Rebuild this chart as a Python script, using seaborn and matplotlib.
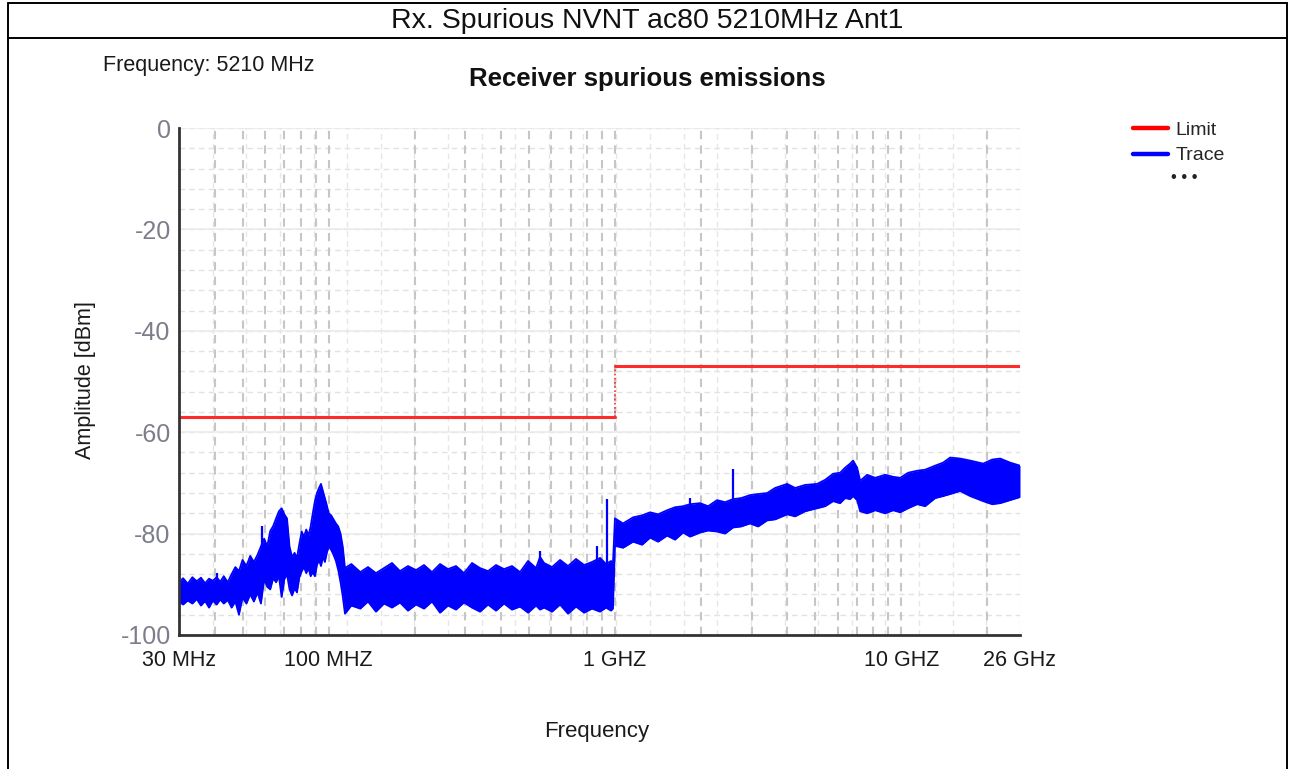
import matplotlib
matplotlib.use("Agg")
import numpy as np
import pandas as pd
import seaborn as sns
import matplotlib.pyplot as plt
from matplotlib.lines import Line2D

# ---------------- data ----------------
header_text = "Rx. Spurious NVNT ac80 5210MHz Ant1"
chart_title = "Receiver spurious emissions"
channel_text = "Frequency: 5210 MHz"

tick_freq_mhz = [30, 100, 1000, 10000, 26000]
tick_labels = ["30 MHz", "100 MHZ", "1 GHZ", "10 GHZ", "26 GHz"]
level_ticks = [0, -20, -40, -60, -80, -100]

# limit mask: band edges (MHz) and level per band (dBm)
limit_edges_mhz = [30, 1000, 26000]
limit_levels_dbm = [-57, -47]

# measured trace envelope: frequency (MHz), upper / lower level (dBm)
trace_freq_mhz = [
    30.0, 31.0, 32.2, 33.4, 34.6, 35.8, 37.0, 38.2, 39.4, 40.6,
    41.8, 43.0, 44.4, 45.8, 47.2, 48.6, 50.0, 51.6, 53.2, 54.8,
    56.4, 58.0, 59.5, 61.0, 62.5, 64.0, 65.5, 67.0, 68.5, 70.0,
    71.5, 73.0, 74.5, 76.0, 77.5, 79.0, 80.5, 82.0, 83.5, 85.0,
    86.5, 88.0, 89.5, 91.0, 92.5, 94.0, 95.5, 97.0, 98.5, 100.0,
    102.0, 104.0, 106.0, 108.0, 110.0, 112.0, 114.0,
    120, 129, 137.2, 146.3, 156.1, 166.4, 177.5, 189.3, 201.9, 215.3,
    229.6, 244.9, 261.2, 278.5, 297.0, 316.8, 337.9, 360.4, 384.2, 409.9,
    437.0, 466.2, 497.2, 530.2, 547.5, 565.4, 603.0, 643.1, 685.8, 731.3,
    780.1, 831.8, 887, 931, 969.2, 984,
    1000, 1067, 1157, 1244, 1327, 1415, 1521, 1622, 1730, 1830,
    1983, 2116, 2274, 2425, 2586, 2759, 2966, 3163, 3401, 3627,
    3995, 4260, 4617, 5084, 5423, 5783, 6117, 6370, 6630, 6792,
    7015, 7188, 7602, 8110, 8788, 9372, 9915, 10573, 11372, 12122,
    13138, 14013, 14825, 16069, 17418, 19337, 20783, 22170, 24020, 26000,
]
trace_upper_dbm = [
    -89.6, -88.8, -89.9, -88.6, -89.4, -88.7, -89.8, -88.9, -89.3, -88.6,
    -89.5, -88.4, -89.6, -88.0, -86.6, -87.4, -85.2, -86.4, -84.4, -85.6,
    -84.2, -82.5, -81.0, -82.5, -79.5, -78.5, -77.0, -75.6, -75.0, -76.2,
    -77.0, -82.6, -84.6, -83.8, -84.8, -82.0, -79.6, -80.6, -79.2, -80.4,
    -78.6, -76.0, -73.6, -72.0, -71.0, -70.2, -71.6, -73.0, -74.4, -76.0,
    -76.4, -77.2, -78.0, -78.6, -80.0, -82.6, -86.8,
    -86.0, -87.6, -86.6, -87.8, -86.8, -85.8, -87.4, -86.4, -87.2, -86.2,
    -87.6, -86.0, -87.0, -86.4, -87.8, -85.8, -86.8, -87.4, -86.2, -87.0,
    -86.4, -87.6, -85.4, -86.8, -84.6, -85.8, -86.6, -85.2, -86.4, -85.0,
    -86.2, -85.6, -84.8, -86.0, -85.4, -86.0,
    -77.0, -78.0, -76.8, -76.4, -75.8, -76.2, -75.4, -74.8, -74.6, -74.2,
    -74.0, -74.6, -73.4, -73.8, -73.2, -73.0, -72.4, -72.2, -72.0, -71.0,
    -70.2, -71.0, -70.4, -70.2, -69.4, -68.2, -68.0, -67.0, -66.2, -65.6,
    -67.0, -69.6, -68.4, -69.0, -68.4, -68.8, -69.0, -68.0, -67.6, -67.4,
    -66.6, -66.0, -65.0, -65.2, -65.6, -66.2, -65.4, -65.2, -66.0, -66.6,
]
trace_lower_dbm = [
    -93.4, -94.0, -93.2, -93.8, -92.9, -94.2, -93.3, -94.6, -93.2, -94.0,
    -93.0, -93.8, -93.1, -94.6, -93.4, -96.0, -92.6, -93.8, -92.0, -93.4,
    -91.6, -93.8, -89.0, -90.5, -91.0, -88.8, -89.6, -88.4, -92.5, -89.0,
    -88.0, -91.0, -92.2, -90.8, -91.6, -88.6, -87.4, -86.6, -87.8, -86.8,
    -88.4, -87.6, -88.4, -86.2, -85.2, -86.4, -84.6, -85.6, -83.8, -82.6,
    -83.2, -84.2, -85.4, -87.2, -89.6, -92.4, -95.8,
    -94.2, -94.8, -93.4, -95.4, -93.8, -94.6, -93.6, -95.2, -94.0, -94.8,
    -93.4, -95.6, -94.2, -95.0, -93.6, -94.6, -95.4, -94.0, -95.2, -93.8,
    -95.0, -94.4, -95.6, -94.2, -95.0, -94.6, -95.4, -94.0, -95.8, -94.4,
    -95.6, -94.8, -95.4, -94.6, -95.2, -94.8,
    -82.4, -82.8, -81.6, -82.2, -80.8, -81.6, -80.4, -81.2, -79.8, -80.6,
    -79.8, -79.4, -79.6, -80.0, -78.8, -78.6, -78.0, -78.6, -77.4, -77.2,
    -76.2, -76.6, -75.6, -75.0, -74.6, -73.6, -74.0, -73.0, -73.2, -72.6,
    -73.4, -75.6, -76.0, -75.4, -76.0, -75.4, -75.8, -75.0, -74.2, -74.6,
    -73.0, -72.6, -72.2, -71.6, -72.6, -73.6, -74.2, -74.0, -73.4, -72.8,
]

# narrow spurious spikes: frequency (MHz), peak level and foot level (dBm)
spike_freq_mhz = [40.6, 58.5, 547.5, 866, 938.6, 1830, 2586]
spike_top_dbm = [-87.7, -78.5, -83.4, -82.4, -73.1, -73.0, -67.2]
spike_base_dbm = [-92.0, -88.0, -90.0, -90.0, -92.0, -78.0, -76.0]

# ---------------- figure ----------------
sns.set_style("white")
plt.rcParams["font.family"] = ["Liberation Sans", "DejaVu Sans"]

W, H = 1289, 769
fig = plt.figure(figsize=(W / 100, H / 100), dpi=100)


def fx(px):
    return px / W


def fy(py):
    return 1 - py / H


ax = fig.add_axes([fx(179), fy(635), (1020 - 179) / W, (635 - 128) / H])
ax.set_xscale("log")
ax.set_xlim(30, 26000)
ax.set_ylim(-100, 0)

BLUE = "#0000ff"
RED = "#ff2a2a"

# grid: horizontal every 4 dB, solid at the labelled levels
for lv in np.arange(-100, 1, 4):
    ax.axhline(lv, color="#e2e2e2", lw=1.0, ls=(0, (4, 3)), zorder=0)
for lv in level_ticks:
    ax.axhline(lv, color="#ebebeb", lw=1.2, zorder=0)

# grid: light evenly spaced verticals (25 divisions of the span)
for f in np.geomspace(30, 26000, 26):
    ax.axvline(f, color="#e6e6e6", lw=1.0, ls=(0, (4, 3)), zorder=0)
# grid: logarithmic decade / sub-decade verticals
log_lines = [m * 10 ** d for d in range(1, 5) for m in range(1, 10)
             if 30 < m * 10 ** d < 26000]
for f in log_lines:
    ax.axvline(f, color="#c6c6c6", lw=1.5, ls=(0, (4, 3)), zorder=0)

# trace
trace = pd.DataFrame({"freq": trace_freq_mhz,
                      "upper": trace_upper_dbm,
                      "lower": trace_lower_dbm})
ax.fill_between(trace["freq"], trace["lower"], trace["upper"],
                color=BLUE, lw=0, zorder=3)
sns.lineplot(data=trace, x="freq", y="upper", color=BLUE, lw=1.3,
             estimator=None, ax=ax, zorder=4)
sns.lineplot(data=trace, x="freq", y="lower", color=BLUE, lw=1.3,
             estimator=None, ax=ax, zorder=4)
ax.vlines(spike_freq_mhz, spike_base_dbm, spike_top_dbm, color=BLUE,
          lw=1.6, zorder=4)

# limit line
for i, lvl in enumerate(limit_levels_dbm):
    sns.lineplot(x=[limit_edges_mhz[i], limit_edges_mhz[i + 1]], y=[lvl, lvl],
                 color=RED, lw=2.2, ax=ax, zorder=5)
ax.vlines(limit_edges_mhz[1:-1], limit_levels_dbm[:-1], limit_levels_dbm[1:],
          color=RED, lw=1.2, linestyles=(0, (1, 1.5)), zorder=5)

# axes styling
for s in ("top", "right"):
    ax.spines[s].set_visible(False)
for s in ("left", "bottom"):
    ax.spines[s].set_color("#333333")
    ax.spines[s].set_linewidth(2.0)
    ax.spines[s].set_zorder(6)

ax.set_xticks(tick_freq_mhz)
ax.set_xticklabels(tick_labels)
ax.xaxis.set_minor_locator(matplotlib.ticker.NullLocator())
ax.set_yticks(level_ticks)
ax.set_yticklabels([str(v) for v in level_ticks])
ax.tick_params(axis="x", length=0, pad=11, labelsize=15.5, labelcolor="#1a1a1a")
ax.tick_params(axis="y", length=0, pad=6, labelsize=18, labelcolor="#7d7d8c")

ax.set_xlabel("Frequency", fontsize=16, color="#1a1a1a", va="center")
ax.xaxis.set_label_coords((597 - 179) / 841, -(731 - 635) / 507)
ax.set_ylabel("Amplitude [dBm]", fontsize=15.5, color="#1a1a1a", va="center")
ax.yaxis.set_label_coords((85 - 179) / 841, (635 - 380) / 507)

# legend
handles = [Line2D([], [], color="#ff0000", lw=3.2, label="Limit"),
           Line2D([], [], color=BLUE, lw=3.2, label="Trace")]
ax.legend(handles=handles, loc="upper left", frameon=False,
          bbox_to_anchor=(fx(1133), fy(121)), bbox_transform=fig.transFigure,
          borderaxespad=0, borderpad=0, fontsize=14, handlelength=1.8,
          handletextpad=0.4, labelspacing=0.42)
fig.text(fx(1184), fy(177), "\u2022 \u2022 \u2022", ha="center", va="center",
         fontsize=12, color="#222222")

# titles
fig.text(fx(647), fy(21), header_text, ha="center", va="center",
         fontsize=20.5, color="#111111")
fig.text(fx(647), fy(79), chart_title, ha="center", va="center",
         fontsize=18.5, weight="bold", color="#111111")
fig.text(fx(103), fy(66), channel_text, ha="left", va="center",
         fontsize=15.5, color="#1a1a1a")

# table frame around the chart
frame = dict(transform=fig.transFigure, color="black", lw=1.4)
fig.add_artist(Line2D([fx(8), fx(1287)], [fy(3), fy(3)], **frame))
fig.add_artist(Line2D([fx(8), fx(1287)], [fy(38), fy(38)], **frame))
fig.add_artist(Line2D([fx(8), fx(8)], [fy(3), fy(769)], **frame))
fig.add_artist(Line2D([fx(1287), fx(1287)], [fy(3), fy(769)], **frame))

fig.savefig("out.png", dpi=100, facecolor="white")
